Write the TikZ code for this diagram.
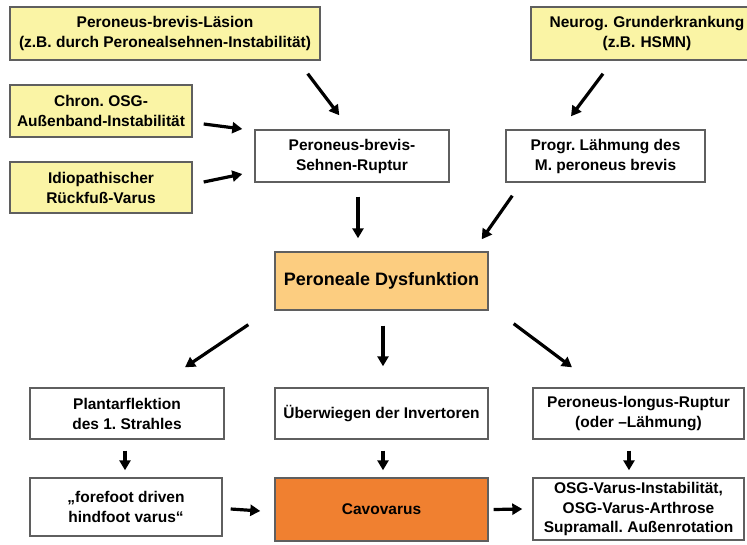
\documentclass[tikz,border=0pt]{standalone}
\usepackage{fontspec}
\setmainfont{Liberation Sans}
\usetikzlibrary{arrows.meta}
\definecolor{ybox}{RGB}{250,244,165}
\definecolor{obox}{RGB}{252,205,128}
\definecolor{dbox}{RGB}{240,128,48}
\definecolor{bline}{RGB}{95,95,95}
\frenchspacing
\tikzset{
  box/.style={draw=bline, line width=1.4pt, align=center, inner sep=1pt,
    font=\fontsize{15.5}{20}\selectfont\bfseries, text=black},
  yelbox/.style={box, fill=ybox},
  whbox/.style={box, fill=white},
  arr/.style={line width=3.2pt, -{Triangle[length=10pt,width=11pt]}, black}
}
\begin{document}
\begin{tikzpicture}[x=1pt,y=1pt]
\useasboundingbox (0,0) rectangle (747,544);
\fill[white] (0,0) rectangle (747,544);
% nodes
\node[yelbox, minimum width=310, minimum height=53] (L1) at (165,510.5) {Peroneus-brevis-Läsion\\(z.B. durch Peronealsehnen-Instabilität)};
\node[yelbox, minimum width=182, minimum height=52] (CH) at (101,433) {Chron. OSG-\\Außenband-Instabilität};
\node[yelbox, minimum width=182, minimum height=51] (ID) at (101,356.5) {Idiopathischer\\Rückfuß-Varus};
\node[yelbox, minimum width=218, minimum height=53, text width=230pt] (NG) at (647,510.5) {Neurog. Grunderkrankung\\(z.B. HSMN)};
\node[whbox, minimum width=194, minimum height=52] (RU) at (352,388) {Peroneus-brevis-\\Sehnen-Ruptur};
\node[whbox, minimum width=199, minimum height=52] (PL) at (605.5,388) {Progr. Lähmung des\\M. peroneus brevis};
\node[box, fill=obox, minimum width=213, minimum height=58, font=\fontsize{18}{22}\selectfont\bfseries] (DY) at (381.5,263) {Peroneale Dysfunktion};
\node[whbox, minimum width=194, minimum height=51] (PF) at (127,130.5) {Plantarflektion\\des 1. Strahles};
\node[whbox, minimum width=213, minimum height=51] (UE) at (381.5,130.5) {Überwiegen der Invertoren};
\node[whbox, minimum width=211, minimum height=51] (LO) at (638.5,130.5) {Peroneus-longus-Ruptur\\(oder –Lähmung)};
\node[whbox, minimum width=192, minimum height=58] (FF) at (126,37) {„forefoot driven\\hindfoot varus“};
\node[box, fill=dbox, minimum width=213, minimum height=63] (CV) at (381.5,34.5) {Cavovarus};
\node[whbox, minimum width=211, minimum height=62, font=\fontsize{15.5}{19.5}\selectfont\bfseries] (OS) at (638.5,35) {OSG-Varus-Instabilität,\\OSG-Varus-Arthrose\\Supramall. Außenrotation};
% connectors
\draw[arr] ([xshift=-13pt,yshift=-13pt]L1.south east) -- ([xshift=85pt,yshift=14pt]RU.north west);
\draw[arr] ([xshift=11pt,yshift=-13pt]CH.east) -- ([xshift=-12pt,yshift=27pt]RU.west);
\draw[arr] ([xshift=11pt,yshift=5.5pt]ID.east) -- ([xshift=-12pt,yshift=-18pt]RU.west);
\draw[arr] ([xshift=-44pt,yshift=-13pt]NG.south) -- ([xshift=-34.5pt,yshift=13pt]PL.north);
\draw[arr] ([xshift=6pt,yshift=-14pt]RU.south) -- ([xshift=-23.5pt,yshift=13pt]DY.north);
\draw[arr] ([xshift=7pt,yshift=-13pt]PL.south west) -- ([xshift=-7pt,yshift=12pt]DY.north east);
\draw[arr] ([xshift=-26pt,yshift=-14pt]DY.south west) -- ([xshift=58pt,yshift=20pt]PF.north);
\draw[arr] ([xshift=1.5pt,yshift=-15pt]DY.south) -- ([xshift=1.5pt,yshift=21pt]UE.north);
\draw[arr] ([xshift=25pt,yshift=-13pt]DY.south east) -- ([xshift=-66.5pt,yshift=20pt]LO.north);
\draw[arr] ([xshift=-2pt,yshift=-11pt]PF.south) -- ([xshift=-1pt,yshift=7pt]FF.north);
\draw[arr] ([xshift=1.5pt,yshift=-11pt]UE.south) -- ([xshift=1.5pt,yshift=7pt]CV.north);
\draw[arr] ([xshift=-9.5pt,yshift=-11pt]LO.south) -- ([xshift=-9.5pt,yshift=7pt]OS.north);
\draw[arr] ([xshift=8pt,yshift=-2pt]FF.east) -- ([xshift=-14pt,yshift=-1.5pt]CV.west);
\draw[arr] ([xshift=5pt,yshift=0pt]CV.east) -- ([xshift=-10pt,yshift=0pt]OS.west);
\end{tikzpicture}
\end{document}
